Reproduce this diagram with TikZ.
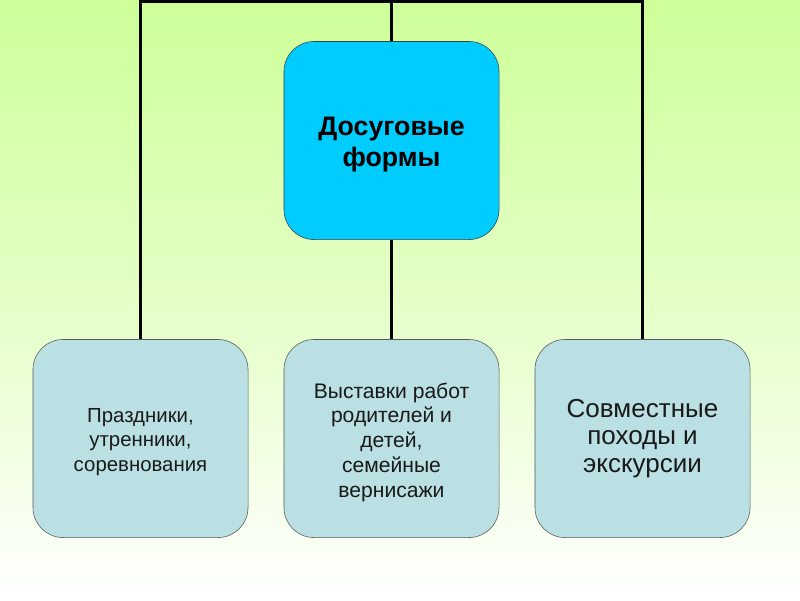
\documentclass[tikz,border=0pt]{standalone}
\usepackage{fontspec}
\setmainfont{Liberation Sans}
\usetikzlibrary{positioning,calc}
\definecolor{fonzel}{RGB}{206,255,153}
\definecolor{goluboj}{RGB}{0,204,255}
\definecolor{seryjgol}{RGB}{187,224,227}
\tikzset{
  glavn/.style={draw=black!75,rounded corners=0.75cm,fill=goluboj,
                minimum width=5.375cm,minimum height=4.95cm,inner sep=0pt},
  vid/.style={draw=black!65,rounded corners=0.75cm,fill=seryjgol,
              minimum width=5.375cm,minimum height=4.95cm,inner sep=0pt},
  nadpis/.style={align=center,inner sep=0pt,text=black!90,
                 font=\fontsize{14.5}{17.6}\selectfont},
  linija/.style={line width=2pt},
}
\begin{document}
\begin{tikzpicture}[x=0.025cm,y=-0.025cm]
  % fon
  \shade[top color=fonzel,bottom color=white,middle color=fonzel!55]
    (0,0) rectangle (800,600);
  \useasboundingbox (0,0) rectangle (800,600);
  % bloki
  \node[glavn] (dosug) at (391.5,140.5) {};
  \node[vid] (prazd) at (140.5,438.5) {};
  \node[vid] (vyst) at (391.5,438.5) {};
  \node[vid] (poh) at (642.5,438.5) {};
  % nadpisi
  \node[nadpis,text=black,font=\fontsize{19}{22.5}\selectfont\bfseries] (dosugt)
    at ([yshift=-3pt]dosug.center) {Досуговые\\формы};
  \node[nadpis] (prazdt) at ([yshift=-2.5pt]prazd.center) {Праздники,\\утренники,\\соревнования};
  \node[nadpis,font=\fontsize{15}{17.6}\selectfont] (vystt) at ([yshift=-2.5pt]vyst.center)
    {Выставки работ\\родителей и\\детей,\\семейные\\вернисажи};
  \node[nadpis,font=\fontsize{18.5}{19.6}\selectfont] (poht) at (poh.center)
    {Совместные\\походы и\\экскурсии};
  % linii
  \coordinate (verh) at (391.5,1.5);
  \draw[linija] (prazd.north) -- (prazd.north |- verh) -- (poh.north |- verh) -- (poh.north);
  \draw[linija] (verh) -- (dosug.north);
  \draw[linija] (dosug.south) -- (vyst.north);
\end{tikzpicture}
\end{document}
